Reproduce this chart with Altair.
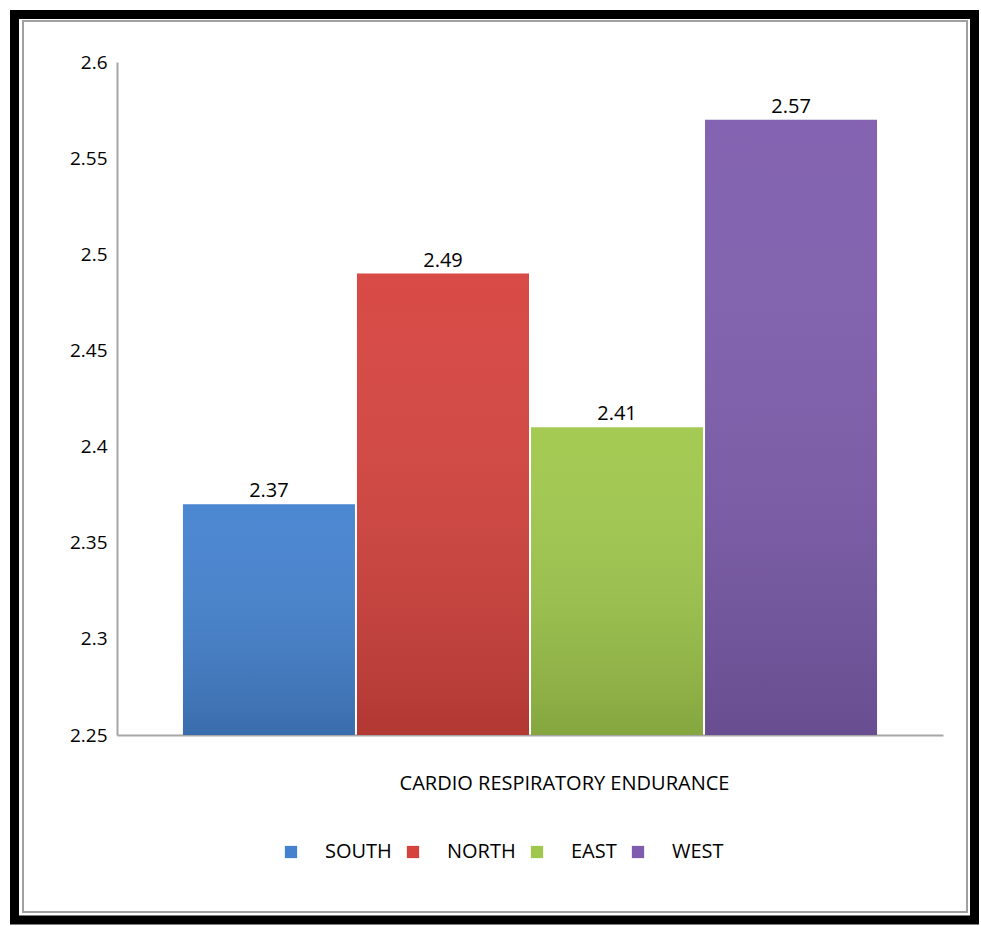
import altair as alt
import pandas as pd

# Mean cardio respiratory endurance score by region
regions = ["SOUTH", "NORTH", "EAST", "WEST"]
scores = [2.37, 2.49, 2.41, 2.57]
colors = ["#4482cf", "#d6433e", "#a0c84c", "#7e5dae"]
y_ticks = [2.25, 2.3, 2.35, 2.4, 2.45, 2.5, 2.55, 2.6]
x_title = "CARDIO RESPIRATORY ENDURANCE"

df = pd.DataFrame({"region": regions, "score": scores})

FONT = "Open Sans"
AXIS_GREY = "#a6a6a6"
W, H = 826, 673

x_enc = alt.X(
    "region:N",
    sort=regions,
    scale=alt.Scale(paddingInner=0.0115, paddingOuter=0.379),
    axis=alt.Axis(
        title=x_title, labels=False, ticks=False,
        domainColor=AXIS_GREY, domainWidth=2,
        titleFont=FONT, titleFontSize=20, titleFontWeight="normal", titleColor="black",
        titleX=447, titleY=48, titleBaseline="middle", titleAlign="center",
    ),
)
y_enc = alt.Y(
    "score:Q",
    scale=alt.Scale(domain=[2.25, 2.6], zero=False, nice=False),
    axis=alt.Axis(
        title=None, values=y_ticks, format=".2~f", ticks=False, grid=False,
        domainColor=AXIS_GREY, domainWidth=2,
        labelFont=FONT, labelFontSize=19, labelColor="black", labelPadding=10,
    ),
)

base = alt.Chart(df).encode(x=x_enc, y=y_enc, y2=alt.datum(2.25))

bars = base.mark_bar().encode(
    color=alt.Color(
        "region:N",
        sort=regions,
        scale=alt.Scale(domain=regions, range=colors),
        legend=alt.Legend(
            orient="none", legendX=164, legendY=780, direction="horizontal",
            title=None, symbolType="square", symbolSize=150, symbolStrokeWidth=0,
            labelFont=FONT, labelFontSize=20, labelColor="black",
            labelOffset=24, columnPadding=11, padding=0,
        ),
    )
)

# soft vertical shading over each bar, darker towards the base
shade = base.mark_bar(
    fill=alt.Gradient(
        gradient="linear",
        stops=[
            alt.GradientStop(color="rgba(255,255,255,0.04)", offset=0),
            alt.GradientStop(color="rgba(0,0,0,0.17)", offset=1),
        ],
        x1=0, x2=0, y1=0, y2=1,
    )
)

labels = alt.Chart(df).mark_text(
    baseline="bottom", dy=-3, font=FONT, fontSize=20, color="black"
).encode(
    x=alt.X("region:N", sort=regions),
    y=alt.Y("score:Q"),
    text=alt.Text("score:Q", format=".2f"),
)

# page frame: thick black border with a thin grey inner border
one = alt.Data(values=[{}])
outer = alt.Chart(one).mark_rect(fillOpacity=0, stroke="black", strokeWidth=9).encode(
    x=alt.value(-102.5), x2=alt.value(857.5), y=alt.value(-47.5), y2=alt.value(858)
)
inner = alt.Chart(one).mark_rect(fillOpacity=0, stroke="#a0a0a0", strokeWidth=2).encode(
    x=alt.value(-94), x2=alt.value(850), y=alt.value(-41), y2=alt.value(850)
)

chart = alt.layer(bars, shade, labels, outer, inner).properties(
    width=W,
    height=H,
    padding={"left": 117, "top": 62, "right": 38, "bottom": 191},
    autosize=alt.AutoSizeParams(type="none"),
    background="white",
).configure_view(strokeWidth=0)

chart.save("out.html", embed_options={"renderer": "svg", "actions": False})
